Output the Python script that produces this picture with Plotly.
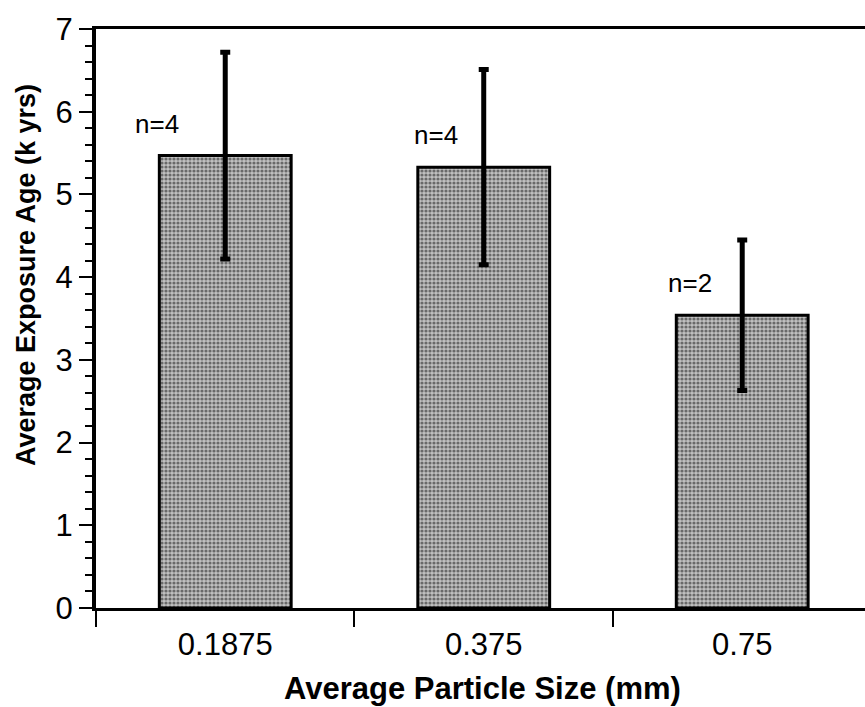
import plotly.graph_objects as go

# Mean exposure age per particle-size class, with one-sigma spread and sample count
sizes = ["0.1875", "0.375", "0.75"]
mean_age = [5.47, 5.33, 3.54]
age_err = [1.25, 1.18, 0.91]
n_samples = [4, 4, 2]

FONT = "Liberation Sans, Arial, Helvetica, sans-serif"

fig = go.Figure()
fig.add_trace(go.Bar(
    x=sizes,
    y=mean_age,
    width=0.51,
    marker=dict(
        color="#b0b0b0",
        line=dict(color="black", width=3),
        pattern=dict(shape=".", fgcolor="#111111", bgcolor="#c0c0c0",
                     size=4, solidity=0.5, fillmode="overlay"),
    ),
    error_y=dict(type="data", array=age_err, visible=True,
                 color="black", thickness=5, width=5),
    showlegend=False,
))

# sample-count labels above each bar (category positions by index)
label_dx = [-68, -48, -52]
for idx, (yi, ni, dx) in enumerate(zip(mean_age, n_samples, label_dx)):
    fig.add_annotation(x=idx, y=yi, text=f"n={ni}", showarrow=False,
                       xanchor="center", yanchor="bottom",
                       xshift=dx, yshift=15,
                       font=dict(family=FONT, size=26, color="black"))

# axis titles
fig.add_annotation(text="<b>Average Particle Size (mm)</b>", xref="paper", yref="paper",
                   x=0.502, y=-0.139, xanchor="center", yanchor="middle",
                   showarrow=False, font=dict(family=FONT, size=31, color="black"))
fig.add_annotation(text="<b>Average Exposure Age (k yrs)</b>", xref="paper", yref="paper",
                   x=-0.091, y=0.575, xanchor="center", yanchor="middle", textangle=-90,
                   showarrow=False, font=dict(family=FONT, size=27, color="black"))

fig.update_layout(
    width=865, height=707,
    margin=dict(l=96, r=0, t=29, b=99),
    paper_bgcolor="white", plot_bgcolor="white",
    font=dict(family=FONT, color="black"),
)
fig.update_xaxes(
    type="category", range=[-0.5, 2.475],
    tickson="boundaries", ticks="outside", ticklen=16, tickwidth=2, tickcolor="black",
    ticklabelstandoff=7,
    showline=True, linecolor="black", linewidth=3, mirror=True,
    showgrid=False, zeroline=False,
    tickfont=dict(family=FONT, size=31, color="black"),
)
fig.update_yaxes(
    range=[0, 7], dtick=1,
    ticks="outside", ticklen=13, tickwidth=2, tickcolor="black",
    minor=dict(dtick=0.2, ticks="outside", ticklen=7, tickwidth=2, tickcolor="black"),
    showline=True, linecolor="black", linewidth=4,
    showgrid=False, zeroline=False,
    tickfont=dict(family=FONT, size=31, color="black"),
)

fig.write_html("out.html")
